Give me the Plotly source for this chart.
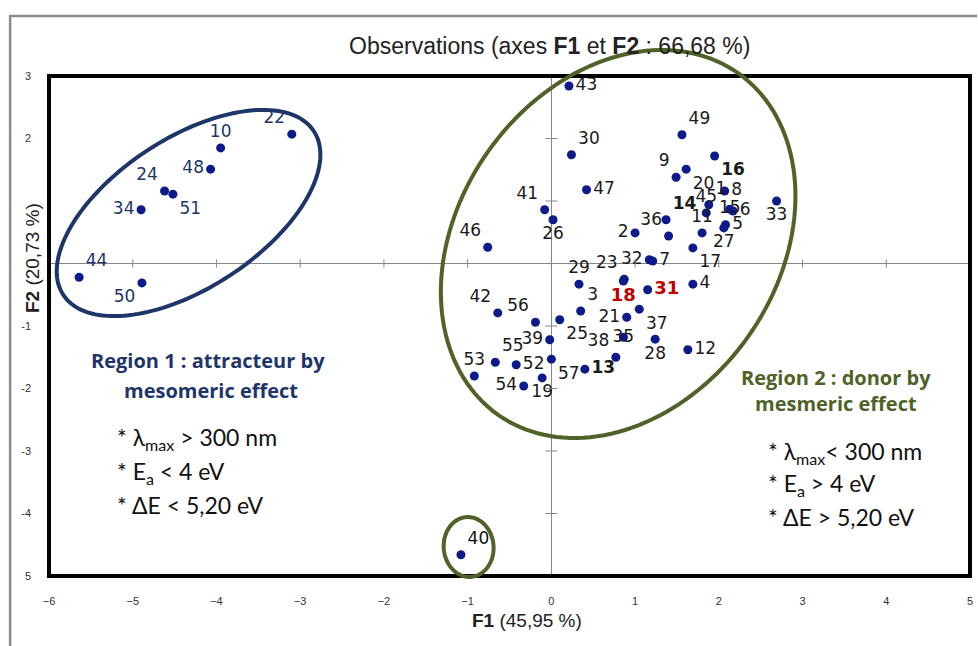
import math
import plotly.graph_objects as go

# ---------------- data ----------------
region1_ids = ["22", "10", "48", "24", "51", "34", "44", "50"]
region1_f1 = [-3.10, -3.95, -4.07, -4.62, -4.52, -4.90, -5.64, -4.89]
region1_f2 = [2.07, 1.85, 1.51, 1.16, 1.11, 0.86, -0.22, -0.31]

region2_ids = ["43", "30", "47", "41", "26", "46", "49", "16", "9", "20",
               "1", "8", "45", "15", "6", "5", "27", "33", "14", "2",
               "36", "11", "17", "32", "7", "29", "23", "18", "31", "4",
               "37", "3", "21", "35", "38", "13", "28", "12", "42", "56",
               "25", "39", "57", "53", "55", "52", "54", "19"]
region2_f1 = [0.21, 0.24, 0.42, -0.08, 0.02, -0.76, 1.56, 1.95, 1.49, 1.61,
              1.88, 2.07, 1.85, 2.13, 2.17, 2.08, 2.06, 2.69, 1.37, 1.00,
              1.40, 1.80, 1.69, 1.17, 1.21, 0.33, 0.87, 0.86, 1.15, 1.69,
              1.05, 0.35, 0.90, 0.86, 0.77, 0.40, 1.24, 1.63, -0.64, -0.19,
              0.10, -0.02, 0.00, -0.92, -0.67, -0.42, -0.33, -0.11]
region2_f2 = [2.84, 1.74, 1.18, 0.86, 0.70, 0.26, 2.06, 1.72, 1.38, 1.51,
              0.94, 1.16, 0.81, 0.87, 0.84, 0.62, 0.57, 1.00, 0.70, 0.49,
              0.44, 0.49, 0.25, 0.06, 0.04, -0.33, -0.25, -0.28, -0.42, -0.33,
              -0.73, -0.76, -0.86, -1.18, -1.50, -1.69, -1.21, -1.38, -0.79, -0.94,
              -0.90, -1.22, -1.53, -1.80, -1.58, -1.62, -1.96, -1.83]

outlier_ids = ["40"]
outlier_f1 = [-1.08]
outlier_f2 = [-4.66]

highlighted_ids = ["18", "31"]
bold_ids = ["14", "16", "13"]

x_ticks = [-6, -5, -4, -3, -2, -1, 0, 1, 2, 3, 4, 5]
y_ticks = [3, 2, -1, -2, -3, -4, -5]
y_ticktext = ["3", "2", "-1", "-2", "-3", "-4", "5"]
y_all_ticks = [3, 2, 1, 0, -1, -2, -3, -4, -5]

# ---------------- styling ----------------
label_pos = {
    "22": "top left", "10": "top center", "48": "middle left", "24": "top left",
    "51": "bottom right", "34": "middle left", "44": "top right", "50": "bottom left",
    "43": "middle right", "30": "top right", "47": "middle right", "41": "top left",
    "26": "bottom center", "46": "top left", "49": "top right", "16": "bottom right",
    "9": "top left", "20": "bottom right", "1": "top right", "8": "middle right",
    "45": "top center", "15": "middle center", "6": "middle right", "5": "middle right",
    "27": "bottom center", "33": "bottom center", "14": "top right", "2": "middle left",
    "36": "top left", "11": "top center", "17": "bottom right", "32": "middle left",
    "7": "middle right", "29": "top center", "23": "top left", "18": "bottom center",
    "31": "middle right", "4": "middle right", "37": "bottom right", "3": "top right",
    "21": "middle left", "35": "middle center", "38": "top left", "13": "middle right",
    "28": "bottom center", "12": "middle right", "42": "top left", "56": "top left",
    "25": "bottom right", "39": "middle left", "57": "bottom right", "53": "top center",
    "55": "top right", "52": "middle right", "54": "middle left", "19": "bottom center",
    "40": "top right",
}

W, H = 978, 646
PL, PR, PT, PB = 49, 973, 76, 576
NAVY_DOT = "#0c1a8a"
NAVY = "#1d3568"
OLIVE = "#4f6228"
LABEL_FONT = "DejaVu Sans"
TEXT_FONT = "Lato"


def paper_x(px):
    return (px - PL) / (PR - PL)


def paper_y(py):
    return (PB - py) / (PB - PT)


def ellipse_path(cx, cy, a, b, theta_deg, n=160):
    th = math.radians(theta_deg)
    pts = []
    for i in range(n):
        t = 2 * math.pi * i / n
        dx = a * math.cos(t) * math.cos(th) - b * math.sin(t) * math.sin(th)
        dy = a * math.cos(t) * math.sin(th) + b * math.sin(t) * math.cos(th)
        pts.append(f"{paper_x(cx + dx):.5f},{paper_y(cy - dy):.5f}")
    return "M " + " L ".join(pts) + " Z"


def fmt(i):
    return f"<b>{i}</b>" if (i in bold_ids or i in highlighted_ids) else i


fig = go.Figure()

# Region 1 points
fig.add_trace(go.Scatter(
    x=region1_f1, y=region1_f2, mode="markers+text",
    text=region1_ids, textposition=[label_pos[i] for i in region1_ids],
    textfont=dict(family=LABEL_FONT, size=17, color=NAVY),
    marker=dict(color=NAVY_DOT, size=9), cliponaxis=False, showlegend=False,
))

# Region 2 points
fig.add_trace(go.Scatter(
    x=region2_f1, y=region2_f2, mode="markers+text",
    text=[fmt(i) for i in region2_ids],
    textposition=[label_pos[i] for i in region2_ids],
    textfont=dict(
        family=LABEL_FONT,
        size=[18 if i in highlighted_ids else 17 for i in region2_ids],
        color=["#c00000" if i in highlighted_ids else "#1a1a1a" for i in region2_ids],
    ),
    marker=dict(color=NAVY_DOT, size=9), cliponaxis=False, showlegend=False,
))

# Outlier
fig.add_trace(go.Scatter(
    x=outlier_f1, y=outlier_f2, mode="markers+text",
    text=outlier_ids,
    textposition=[label_pos[i] for i in outlier_ids],
    textfont=dict(family=LABEL_FONT, size=17, color="#111111"),
    marker=dict(color=NAVY_DOT, size=9), cliponaxis=False, showlegend=False,
))

shapes = []
# outer chart-area border (gray, left & top)
shapes.append(dict(type="path", xref="paper", yref="paper",
                   path=f"M {paper_x(10):.5f},{paper_y(650):.5f} L {paper_x(10):.5f},{paper_y(16):.5f} L {paper_x(980):.5f},{paper_y(16):.5f}",
                   line=dict(color="#8c8c8c", width=2.5)))
# tick marks on the zero lines
for xv in x_ticks:
    shapes.append(dict(type="line", xref="x", yref="y", x0=xv, x1=xv, y0=-0.065, y1=0.065,
                       line=dict(color="#868686", width=1)))
for yv in y_all_ticks:
    shapes.append(dict(type="line", xref="x", yref="y", y0=yv, y1=yv, x0=-0.07, x1=0.07,
                       line=dict(color="#868686", width=1)))
# plot-area frame
shapes.append(dict(type="rect", xref="paper", yref="paper", x0=0, x1=1, y0=0, y1=1,
                   line=dict(color="black", width=4), layer="above"))
# ellipses
shapes.append(dict(type="path", xref="paper", yref="paper",
                   path=ellipse_path(189, 213, 150, 75, 33), line=dict(color=NAVY, width=4), layer="above"))
shapes.append(dict(type="path", xref="paper", yref="paper",
                   path=ellipse_path(620, 244, 209, 160, 54.7), line=dict(color=OLIVE, width=4), layer="above"))
shapes.append(dict(type="path", xref="paper", yref="paper",
                   path=ellipse_path(470, 547, 30, 25, 95), line=dict(color=OLIVE, width=4), layer="above"))

annotations = []


def add_text(text, px, py, size, color, xanchor="center", family=TEXT_FONT, angle=0):
    annotations.append(dict(text=text, x=paper_x(px), y=paper_y(py), xref="paper", yref="paper",
                            xanchor=xanchor, yanchor="middle", showarrow=False, textangle=angle,
                            font=dict(family=family, size=size, color=color)))


add_text("Observations (axes <b>F1</b> et <b>F2</b> : 66,68 %)", 551, 46, 23, "#222222",
         family="Liberation Sans")
add_text("<b>F1</b> (45,95 %)", 529, 620, 19, "#222222", family="Liberation Sans")
add_text("<b>F2</b> (20,73 %)", 32, 258, 19, "#222222", family="Liberation Sans", angle=-90)

add_text("<b>Region 1 : attracteur by</b>", 209, 360, 20, NAVY, family="Open Sans")
add_text("<b>mesomeric effect</b>", 212, 390, 20, NAVY, family="Open Sans")
add_text("* λ<sub>max</sub> &gt; 300 nm", 115, 438, 23, "#111111", xanchor="left")
add_text("* E<sub>a</sub> &lt; 4 eV", 115, 472, 23, "#111111", xanchor="left")
add_text("* ΔE &lt; 5,20 eV", 115, 505, 23, "#111111", xanchor="left")

add_text("<b>Region 2 : donor by</b>", 839, 377, 20, OLIVE, family="Open Sans")
add_text("<b>mesmeric effect</b>", 839, 403, 20, OLIVE, family="Open Sans")
add_text("* λ<sub>max</sub>&lt; 300 nm", 768, 452, 23, "#111111", xanchor="left")
add_text("* E<sub>a</sub> &gt; 4 eV", 768, 484, 23, "#111111", xanchor="left")
add_text("* ΔE &gt; 5,20 eV", 768, 517, 23, "#111111", xanchor="left")

fig.update_layout(
    width=W, height=H,
    margin=dict(l=PL, r=W - PR, t=PT, b=H - PB),
    paper_bgcolor="white", plot_bgcolor="white",
    shapes=shapes, annotations=annotations,
    xaxis=dict(range=[-6, 5], tickvals=x_ticks, showgrid=False, zeroline=True,
               zerolinecolor="#868686", zerolinewidth=1, showline=False, ticks="",
               ticklabelstandoff=17,
               tickfont=dict(family="Liberation Sans", size=11, color="#333333")),
    yaxis=dict(range=[-5, 3], tickvals=y_ticks, ticktext=y_ticktext, showgrid=False,
               zeroline=True, zerolinecolor="#868686", zerolinewidth=1, showline=False,
               ticks="", ticklabelstandoff=17,
               tickfont=dict(family="Liberation Sans", size=11, color="#333333")),
)

fig.write_html("out.html")
